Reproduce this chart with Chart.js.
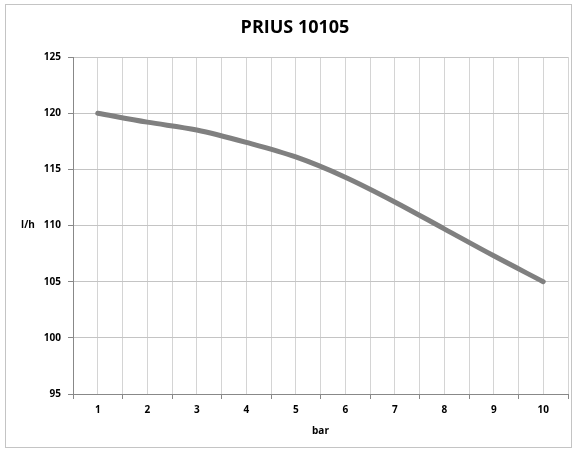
<!DOCTYPE html>
<html>
<head>
<meta charset="utf-8">
<script src="https://cdn.jsdelivr.net/npm/chart.js@4/dist/chart.umd.min.js"></script>
<style>
  html, body { margin: 0; padding: 0; background: #fff; }
  #wrap { position: relative; width: 577px; height: 449px; }
</style>
</head>
<body>
<div id="wrap"><canvas id="myChart" width="577" height="449"></canvas></div>
<script>
// dati
const pressure = [1, 2, 3, 4, 5, 6, 7, 8, 9, 10];      // bar
const flow = [120, 119.2, 118.5, 117.4, 116.1, 114.3, 112.1, 109.7, 107.3, 105]; // l/h
const yTicks = [95, 100, 105, 110, 115, 120, 125];
const chartTitle = 'PRIUS 10105';

const fontFam = "'Open Sans', 'Liberation Sans', sans-serif";

// bordo esterno, titolo e etichetta asse y orizzontale
const decor = {
    id: 'decor',
    beforeDraw(chart) {
        const c = chart.ctx;
        c.save();
        c.fillStyle = '#fff';
        c.fillRect(0, 0, chart.width, chart.height);
        c.strokeStyle = '#c4c4c4';
        c.lineWidth = 1;
        c.strokeRect(5.5, 4.5, 566, 443);
        c.restore();
    },
    afterDraw(chart) {
        const c = chart.ctx;
        c.save();
        c.fillStyle = '#000';
        c.textAlign = 'center';
        c.textBaseline = 'middle';
        c.font = 'bold 18px ' + fontFam;
        c.fillText(chartTitle, 295, 28);
        c.font = 'bold 10px ' + fontFam;
        c.fillText('l/h', 28, chart.scales.y.getPixelForValue(110));
        c.restore();
    }
};

document.addEventListener("DOMContentLoaded", () => {
    const ctx = document.getElementById('myChart');
    new Chart(ctx, {
        type: 'line',
        data: {
            datasets: [{
                label: chartTitle,
                data: pressure.map((p, i) => ({ x: p, y: flow[i] })),
                borderColor: '#808080',
                borderWidth: 5,
                borderCapStyle: 'round',
                pointRadius: 0,
                cubicInterpolationMode: 'monotone',
                fill: false
            }]
        },
        options: {
            responsive: false,
            animation: false,
            layout: { padding: { left: 0, right: 9, top: 57, bottom: 0 } },
            plugins: {
                legend: { display: false },
                tooltip: { enabled: false },
                title: { display: false }
            },
            scales: {
                x: {
                    type: 'linear',
                    min: 0.5,
                    max: 10.5,
                    afterFit: (s) => { s.height = 55; },
                    ticks: {
                        stepSize: 0.5,
                        maxTicksLimit: 30,
                        autoSkip: false,
                        maxRotation: 0,
                        padding: 5,
                        color: '#000',
                        font: { family: fontFam, size: 10, weight: 'bold' },
                        callback: (v) => (v % 1 === 0 ? String(v) : '')
                    },
                    grid: {
                        color: '#d4d4d4',
                        tickLength: 5,
                        tickColor: (c) => (c.tick && c.tick.value % 1 !== 0 ? '#888' : 'rgba(0,0,0,0)')
                    },
                    border: { color: '#888' },
                    title: {
                        display: true,
                        text: 'bar',
                        color: '#000',
                        font: { family: fontFam, size: 10, weight: 'bold' },
                        padding: { top: 0, bottom: 12 }
                    }
                },
                y: {
                    min: yTicks[0],
                    max: yTicks[yTicks.length - 1],
                    afterFit: (s) => { s.width = 73; },
                    afterBuildTicks: (s) => { s.ticks = yTicks.map(v => ({ value: v })); },
                    ticks: {
                        padding: 7,
                        color: '#000',
                        font: { family: fontFam, size: 10, weight: 'bold' }
                    },
                    grid: {
                        color: '#c4c4c4',
                        tickLength: 5,
                        tickColor: '#888'
                    },
                    border: { color: '#888' }
                }
            }
        },
        plugins: [decor]
    });
});
</script>
</body>
</html>
